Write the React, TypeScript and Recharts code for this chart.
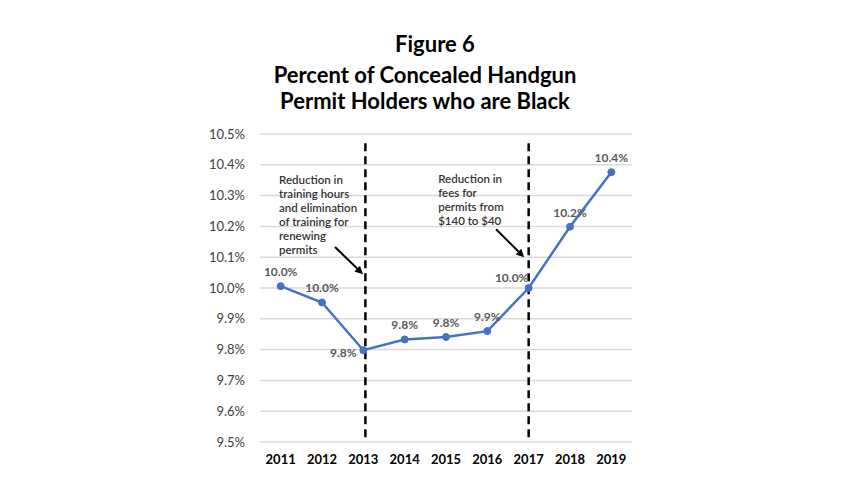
import {
  CartesianGrid,
  LabelList,
  Line,
  LineChart,
  ReferenceDot,
  ReferenceLine,
  XAxis,
  YAxis,
} from "recharts";

const years = ["2011", "2012", "2013", "2014", "2015", "2016", "2017", "2018", "2019"];
const pctBlack = [10.006, 9.953, 9.798, 9.833, 9.841, 9.86, 10.0, 10.199, 10.376];
const yTicks = [9.5, 9.6, 9.7, 9.8, 9.9, 10.0, 10.1, 10.2, 10.3, 10.4, 10.5];

const note1 = ["Reduction in", "training hours", "and elimination", "of training for", "renewing", "permits"];
const note2 = ["Reduction in", "fees for", "permits from", "$140 to $40"];

// x is a band index: year i sits in the middle of slot [i, i+1]
const data = years.map((year, i) => ({ year, x: i + 0.5, pct: pctBlack[i] }));
const xTicks = data.map((d) => d.x);

const FONT = "Lato, 'Open Sans', sans-serif";
const BLUE = "#4472C4";

// label placement per point: default above, a couple sit to the left
function labelOffset(i: number) {
  if (i === 2) return { dx: -20, dy: 7 };
  if (i === 6) return { dx: -17, dy: -6 };
  return { dx: 0, dy: -10 };
}

function PointLabel(props: any) {
  const { x, y, value, index } = props;
  const o = labelOffset(index);
  return (
    <text
      x={x + o.dx}
      y={y + o.dy}
      textAnchor="middle"
      fontSize={12}
      fontWeight={700}
      fill="#595959"
      fontFamily={FONT}
    >
      {Number(value).toFixed(1)}%
    </text>
  );
}

function noteShape(lines: string[]) {
  return (p: any) => (
    <text x={p.cx} y={p.cy} fontSize={11.5} fontWeight={600} fill="#333" fontFamily={FONT}>
      {lines.map((t, i) => (
        <tspan key={i} x={p.cx} dy={i === 0 ? 4 : 14}>
          {t}
        </tspan>
      ))}
    </text>
  );
}

function arrowShape(p: any) {
  const { x1, y1, x2, y2 } = p;
  const a = Math.atan2(y2 - y1, x2 - x1);
  const L = 8;
  const w = 4;
  const bx = x2 - L * Math.cos(a);
  const by = y2 - L * Math.sin(a);
  const pts = [
    `${x2},${y2}`,
    `${bx - w * Math.sin(a)},${by + w * Math.cos(a)}`,
    `${bx + w * Math.sin(a)},${by - w * Math.cos(a)}`,
  ].join(" ");
  return (
    <g>
      <line x1={x1} y1={y1} x2={bx} y2={by} stroke="#000" strokeWidth={2} />
      <polygon points={pts} fill="#000" />
    </g>
  );
}

export default function App() {
  return (
    <div
      style={{
        position: "absolute",
        left: 0,
        top: 0,
        width: 848,
        height: 477,
        background: "#fff",
        fontFamily: FONT,
      }}
    >
      <div
        style={{
          position: "absolute",
          left: 335,
          width: 200,
          top: 30,
          textAlign: "center",
          fontSize: 22,
          fontWeight: 700,
          color: "#000",
        }}
      >
        Figure 6
      </div>
      <div
        style={{
          position: "absolute",
          left: 225,
          width: 400,
          top: 62,
          textAlign: "center",
          fontSize: 22,
          fontWeight: 700,
          lineHeight: "26px",
          color: "#000",
        }}
      >
        Percent of Concealed Handgun
        <br />
        Permit Holders who are Black
      </div>
      <LineChart
        width={848}
        height={477}
        data={data}
        margin={{ top: 134, right: 216, bottom: 5, left: 200 }}
        style={{ position: "absolute", left: 0, top: 0 }}
      >
        <CartesianGrid vertical={false} stroke="#d9d9d9" strokeWidth={1.5} />
        <XAxis
          dataKey="x"
          type="number"
          domain={[0, years.length]}
          ticks={xTicks}
          tickFormatter={(v: number) => years[Math.floor(v)]}
          axisLine={false}
          tickLine={false}
          height={30}
          tickMargin={7}
          tick={{ fontSize: 13, fontWeight: 700, fill: "#000", fontFamily: FONT }}
        />
        <YAxis
          width={60}
          domain={[9.5, 10.5]}
          ticks={yTicks}
          axisLine={false}
          tickLine={false}
          tickMargin={9}
          tickFormatter={(v: number) => `${v.toFixed(1)}%`}
          tick={{ fontSize: 13, fill: "#404040", fontFamily: FONT }}
        />
        <ReferenceLine
          segment={[
            { x: 2.55, y: 10.47 },
            { x: 2.55, y: 9.515 },
          ]}
          stroke="#000"
          strokeWidth={2.5}
          strokeDasharray="8 5"
        />
        <ReferenceLine
          segment={[
            { x: 6.5, y: 10.47 },
            { x: 6.5, y: 9.515 },
          ]}
          stroke="#000"
          strokeWidth={2.5}
          strokeDasharray="8 5"
        />
        <ReferenceDot x={0.46} y={10.35} r={0} shape={noteShape(note1)} />
        <ReferenceDot x={4.31} y={10.354} r={0} shape={noteShape(note2)} />
        <ReferenceLine
          segment={[
            { x: 1.815, y: 10.133 },
            { x: 2.49, y: 10.045 },
          ]}
          shape={arrowShape}
        />
        <ReferenceLine
          segment={[
            { x: 5.71, y: 10.191 },
            { x: 6.39, y: 10.1 },
          ]}
          shape={arrowShape}
        />
        <Line
          dataKey="pct"
          stroke={BLUE}
          strokeWidth={2.5}
          dot={{ r: 3.5, fill: BLUE, stroke: BLUE, strokeWidth: 1 }}
          isAnimationActive={false}
        >
          <LabelList dataKey="pct" content={PointLabel} />
        </Line>
      </LineChart>
    </div>
  );
}
